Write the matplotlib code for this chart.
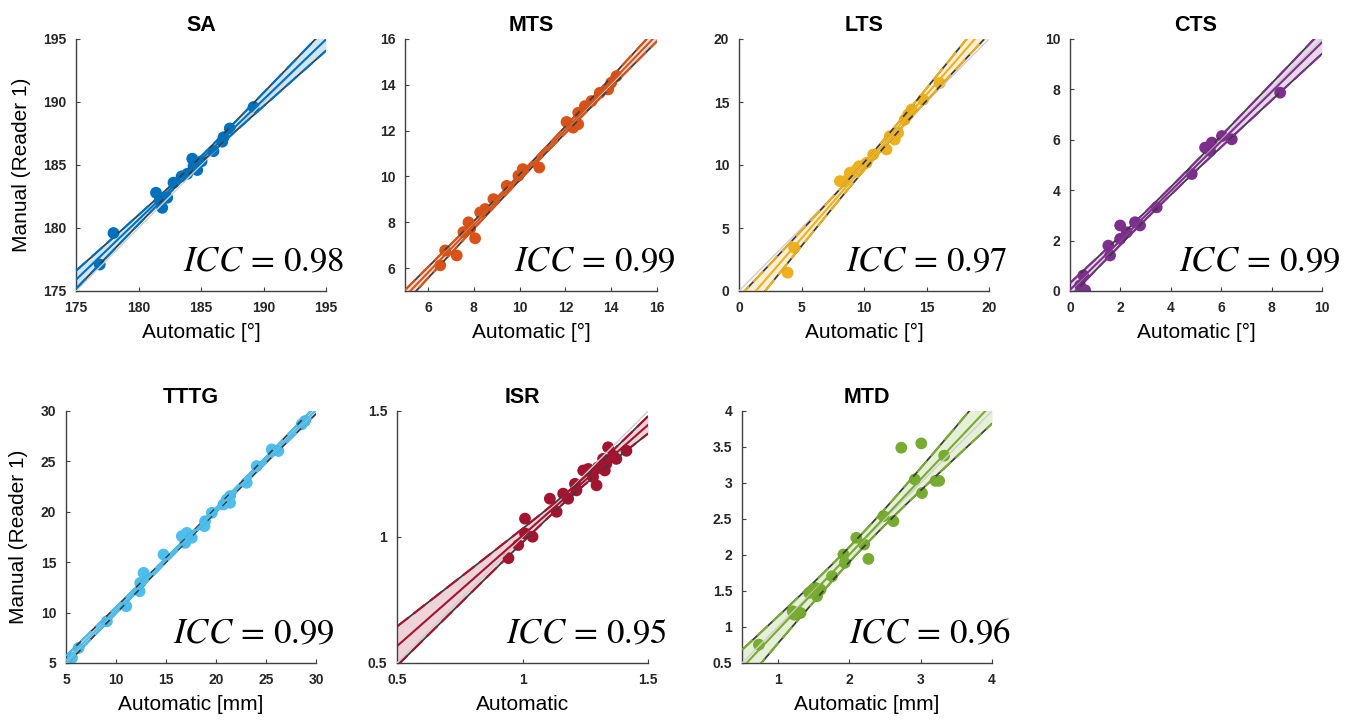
import numpy as np
import matplotlib
matplotlib.use("Agg")
import matplotlib.pyplot as plt
from matplotlib.ticker import FuncFormatter

plt.rcParams['font.family'] = ['Liberation Sans', 'DejaVu Sans']
plt.rcParams['mathtext.fontset'] = 'stix'

# ---------------- data ----------------
titles = ["SA", "MTS", "LTS", "CTS", "TTTG", "ISR", "MTD"]
xlabels = ["Automatic [°]", "Automatic [°]", "Automatic [°]", "Automatic [°]",
           "Automatic [mm]", "Automatic", "Automatic [mm]"]
icc_values = ["0.98", "0.99", "0.97", "0.99", "0.99", "0.95", "0.96"]
colors = ["#0072BD", "#D95319", "#EDB120", "#7E2F8E", "#4DBEEE", "#A2142F", "#77AC30"]

sa_x = [176.9, 178.0, 181.4, 181.9, 182.3, 181.7, 182.8, 183.45, 183.9, 184.3,
        184.4, 184.7, 185.05, 184.7, 186.0, 186.7, 186.8, 187.3, 189.2]
sa_y = [177.1, 179.6, 182.8, 181.6, 182.4, 182.2, 183.6, 184.1, 184.3, 185.5,
        184.9, 185.1, 185.3, 184.6, 186.1, 186.85, 187.2, 187.9, 189.6]

mts_x = [6.54, 6.75, 7.26, 7.55, 7.77, 7.84, 8.06, 8.28, 8.50, 8.86, 9.44, 9.95,
         10.14, 10.86, 12.05, 12.34, 12.56, 12.56, 12.85, 13.14, 13.5, 13.87, 14.0, 14.23]
mts_y = [6.12, 6.77, 6.55, 7.57, 8.0, 7.71, 7.30, 8.43, 8.58, 9.01, 9.59, 10.03,
         10.32, 10.39, 12.38, 12.13, 12.78, 12.28, 13.07, 13.29, 13.65, 13.8, 14.09, 14.38]

lts_x = [3.89, 4.42, 8.07, 8.47, 8.87, 9.4, 9.61, 10.2, 10.73, 11.8, 12.06, 12.46,
         12.73, 13.26, 13.53, 13.8, 14.73, 16.06]
lts_y = [1.45, 3.43, 8.72, 8.72, 9.38, 9.64, 9.91, 10.17, 10.83, 11.23, 12.28, 12.02,
         12.55, 13.6, 14.0, 14.4, 15.19, 16.5]

cts_x = [0.6, 0.4, 0.53, 1.52, 1.59, 1.99, 1.99, 2.25, 2.58, 2.78, 3.44, 4.83,
         5.36, 5.56, 5.63, 6.03, 6.42, 8.34]
cts_y = [0.03, 0.22, 0.62, 1.80, 1.41, 2.6, 2.07, 2.33, 2.73, 2.6, 3.32, 4.64,
         5.69, 5.56, 5.89, 6.15, 6.02, 7.87]

tttg_x = [5.6, 6.26, 9.09, 11.03, 12.36, 12.42, 12.76, 14.75, 16.58, 17.08, 16.92,
          17.58, 18.85, 18.91, 19.58, 20.75, 21.08, 21.41, 21.41, 23.07, 24.07,
          25.57, 26.24, 28.57, 28.9]
tttg_y = [5.5, 6.49, 9.14, 10.63, 12.12, 12.95, 13.94, 15.76, 17.58, 17.91, 16.92,
          17.42, 18.58, 19.07, 19.9, 20.73, 21.23, 21.56, 20.89, 22.88, 24.54,
          26.19, 26.03, 28.68, 29.0]

isr_x = [0.944, 0.983, 1.01, 1.01, 1.04, 1.109, 1.136, 1.162, 1.182, 1.209, 1.215,
         1.242, 1.262, 1.281, 1.295, 1.301, 1.321, 1.341, 1.328, 1.361, 1.374,
         1.414, 1.334]
isr_y = [0.916, 0.968, 1.073, 1.014, 1.001, 1.152, 1.100, 1.172, 1.152, 1.211, 1.185,
         1.264, 1.270, 1.238, 1.205, 1.277, 1.310, 1.356, 1.264, 1.323, 1.310,
         1.342, 1.290]

mtd_x = [0.737, 1.21, 1.23, 1.32, 1.44, 1.53, 1.55, 1.60, 1.76, 1.92, 1.94, 2.10,
         2.21, 2.27, 2.48, 2.62, 2.73, 2.92, 3.01, 3.02, 3.21, 3.26, 3.33]
mtd_y = [0.755, 1.219, 1.172, 1.195, 1.474, 1.543, 1.427, 1.52, 1.705, 2.007, 1.891,
         2.239, 2.146, 1.946, 2.54, 2.47, 3.49, 3.05, 3.55, 2.86, 3.03, 3.03, 3.38]

xs_data = [sa_x, mts_x, lts_x, cts_x, tttg_x, isr_x, mtd_x]
ys_data = [sa_y, mts_y, lts_y, cts_y, tttg_y, isr_y, mtd_y]

limits = [(175, 195), (5, 16), (0, 20), (0, 10), (5, 30), (0.5, 1.5), (0.5, 4)]
ticks = [[175, 180, 185, 190, 195], [6, 8, 10, 12, 14, 16], [0, 5, 10, 15, 20],
         [0, 2, 4, 6, 8, 10], [5, 10, 15, 20, 25, 30], [0.5, 1, 1.5],
         [1, 2, 3, 4]]
yticks = [[175, 180, 185, 190, 195], [6, 8, 10, 12, 14, 16], [0, 5, 10, 15, 20],
          [0, 2, 4, 6, 8, 10], [5, 10, 15, 20, 25, 30], [0.5, 1, 1.5],
          [0.5, 1, 1.5, 2, 2.5, 3, 3.5, 4]]

T_CRIT = 2.07  # two-sided 95% t quantile (approx. for n ~ 20)

# axes rectangles in pixels: (left, top, width, height)
W, H = 1351, 720
rects_px = [(76, 39, 250, 252), (405, 39, 252, 252), (739, 39, 250, 252),
            (1070, 39, 252, 252), (66, 411, 250, 252), (397, 411, 251, 252),
            (742, 411, 250, 252)]

fig = plt.figure(figsize=(W / 100, H / 100), dpi=100)
fmt = FuncFormatter(lambda v, p: "%g" % v)
TXT = "#262626"

for i in range(7):
    l, t, w, h = rects_px[i]
    ax = fig.add_axes([l / W, 1 - (t + h) / H, w / W, h / H])
    x = np.asarray(xs_data[i], float)
    y = np.asarray(ys_data[i], float)
    c = colors[i]
    lo, hi = limits[i]

    # regression and 95% confidence band
    b1, b0 = np.polyfit(x, y, 1)
    n = len(x)
    res = y - (b0 + b1 * x)
    s = np.sqrt(np.sum(res ** 2) / (n - 2))
    xm = x.mean()
    sxx = np.sum((x - xm) ** 2)
    xx = np.linspace(lo, hi, 200)
    fit = b0 + b1 * xx
    half = T_CRIT * s * np.sqrt(1.0 / n + (xx - xm) ** 2 / sxx)
    up, dn = fit + half, fit - half

    ax.scatter(x, y, s=72, color=c, edgecolors='none', zorder=1)
    ax.fill_between(xx, dn, up, color=c, alpha=0.18, lw=0, zorder=2)
    ax.plot([lo, hi], [lo, hi], color="#cfcfcf", lw=1.0, zorder=3)
    for edge in (up, dn):
        ax.plot(xx, edge, color="#3c3c3c", lw=1.3, zorder=4)
        ax.plot(xx, edge, color=c, lw=1.5, ls=(0, (7, 3)), zorder=5)
    ax.plot(xx, fit, color=c, lw=1.5, zorder=5)

    ax.set_xlim(lo, hi)
    ax.set_ylim(lo, hi)
    ax.set_xticks(ticks[i])
    ax.set_yticks(yticks[i])
    ax.xaxis.set_major_formatter(fmt)
    ax.yaxis.set_major_formatter(fmt)
    for sp in ("top", "right"):
        ax.spines[sp].set_visible(False)
    for sp in ("left", "bottom"):
        ax.spines[sp].set_color("#404040")
        ax.spines[sp].set_linewidth(1.0)
    ax.tick_params(direction='in', length=3, width=0.8, colors="#404040",
                   labelcolor=TXT, labelsize=10, pad=7)
    for lab in ax.get_xticklabels() + ax.get_yticklabels():
        lab.set_fontweight('bold')

    ax.set_title(titles[i], fontsize=15.5, fontweight='bold', color='black', pad=6)
    ax.set_xlabel(xlabels[i], fontsize=15, color='black', labelpad=6)
    if i in (0, 4):
        ax.set_ylabel("Manual (Reader 1)", fontsize=15, color='black', labelpad=9)

    ax.text(1.075, 0.115, r"$ICC\,=\,%s$" % icc_values[i], transform=ax.transAxes,
            ha='right', va='center', fontsize=25, color='black', clip_on=False)

fig.savefig("out.png", dpi=100, facecolor='white')
